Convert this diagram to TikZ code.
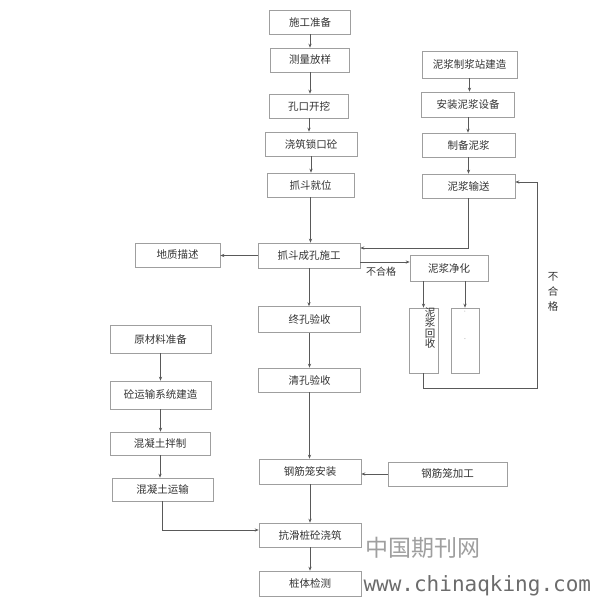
\documentclass[tikz,border=0pt]{standalone}
\usepackage{fontspec}
\setmainfont{Liberation Serif}
\newfontfamily\cjk{Noto Sans CJK SC}
\newfontfamily\wmfont{DejaVu Sans Mono}
\usetikzlibrary{arrows.meta}

\begin{document}
\begin{tikzpicture}[x=1pt,y=-1pt,font=\cjk\fontsize{10.5}{12}\selectfont,
  box/.style={draw=gray!75,line width=0.6pt,minimum width=#1,minimum height=24pt,inner sep=0pt,text=black!80},
  box/.default=81pt,
  ln/.style={draw=black!65,line width=0.7pt},
  arr/.style={ln,-{Stealth[length=4pt,width=3.2pt]}}]
\useasboundingbox[fill=white] (0,0) rectangle (591,604);
% main column
\node[box=81pt] (prep) at (310,22) {施工准备};
\node[box=79pt] (survey) at (310,60) {测量放样};
\node[box=79pt] (dig) at (309,106) {孔口开挖};
\node[box=92pt] (collar) at (311,144) {浇筑锁口砼};
\node[box=87pt] (grab) at (310.5,185) {抓斗就位};
\node[box=102pt,minimum height=25pt] (hole) at (309,255.5) {抓斗成孔施工};
\node[box=85pt] (geo) at (177.5,255) {地质描述};
\node[box=102pt,minimum height=26pt] (endchk) at (309.5,319.5) {终孔验收};
\node[box=102pt] (cleanchk) at (309.5,380) {清孔验收};
\node[box=102pt,minimum height=25pt] (cage) at (310,471.5) {钢筋笼安装};
\node[box=119pt] (cagemk) at (447.5,474) {钢筋笼加工};
\node[box=102pt] (pour) at (310,535) {抗滑桩砼浇筑};
\node[box=102pt,minimum height=25pt] (test) at (310,583.5) {桩体检测};
% slurry
\node[box=95pt,minimum height=27pt] (station) at (469.5,64.5) {泥浆制浆站建造};
\node[box=93pt,minimum height=25pt] (equip) at (468,104.5) {安装泥浆设备};
\node[box=93pt] (slurry) at (468.5,145) {制备泥浆};
\node[box=93pt] (send) at (468.5,186) {泥浆输送};
\node[box=78pt,minimum height=26pt] (purify) at (449,268) {泥浆净化};
\node[box=29pt,minimum height=65pt] (recov) at (423.5,340.5) {};
\node[box=28pt,minimum height=65pt] (blank) at (465,340.5) {};
\node[anchor=north,align=center,text=black!80,font=\cjk\fontsize{10.5}{10.5}\selectfont] (recovtxt) at (430,304) {泥\\浆\\回\\收};
\node[text=gray,font=\tiny] (bm1) at (465,313) {'};
\node[text=gray,font=\tiny] (bm2) at (465,340) {-};
% concrete
\node[box=101pt,minimum height=28pt] (mat) at (160.5,339) {原材料准备};
\node[box=101pt,minimum height=28pt] (csys) at (160.5,395) {砼运输系统建造};
\node[box=100pt,minimum height=23pt] (mixc) at (160,443.5) {混凝土拌制};
\node[box=101pt,minimum height=23pt] (ctrans) at (162.5,489.5) {混凝土运输};
% labels
\node[text=black!80,font=\cjk\fontsize{10}{12}\selectfont] (ng1) at (381,272) {不合格};
\node[align=center,text=black!80,font=\cjk\fontsize{10.5}{15}\selectfont] (ng2) at (553,292) {不\\合\\格};
\node[anchor=west,text=gray!75,font=\cjk\fontsize{23}{24}\selectfont] (wm1) at (362,548) {中国期刊网};
\node[anchor=west,text=gray!85!black,font=\wmfont\fontsize{21}{24}\selectfont] (wm2) at (360,586) {www.chinaqking.com};
% connectors
\foreach \a/\b in {prep/survey,survey/dig,dig/collar,collar/grab,grab/hole,hole/endchk,endchk/cleanchk,cleanchk/cage,cage/pour,pour/test,station/equip,equip/slurry,slurry/send,mat/csys,csys/mixc,mixc/ctrans}
  \draw[arr] (\a.south) -- (\a.south |- \b.north);
\draw[arr] (hole.west) -- (geo.east |- hole.west);
\draw[arr] (cagemk.west) -- (cage.east |- cagemk.west);
\draw[arr] (send.south) |- (hole.east |- 0,248);
\draw[arr] (hole.east |- 0,262) -- (purify.west |- 0,262);
\draw[arr] (purify.south -| recov) -- (recov.north);
\draw[arr] (purify.south -| blank) -- (blank.north);
\coordinate (loopB) at (537,388);
\coordinate (loopT) at (537,182);
\draw[arr] (recov.south) |- (loopB) -- (loopT) -- (send.east |- loopT);
\draw[arr] (ctrans.south) |- (pour.west |- 0,530);
\end{tikzpicture}
\end{document}
